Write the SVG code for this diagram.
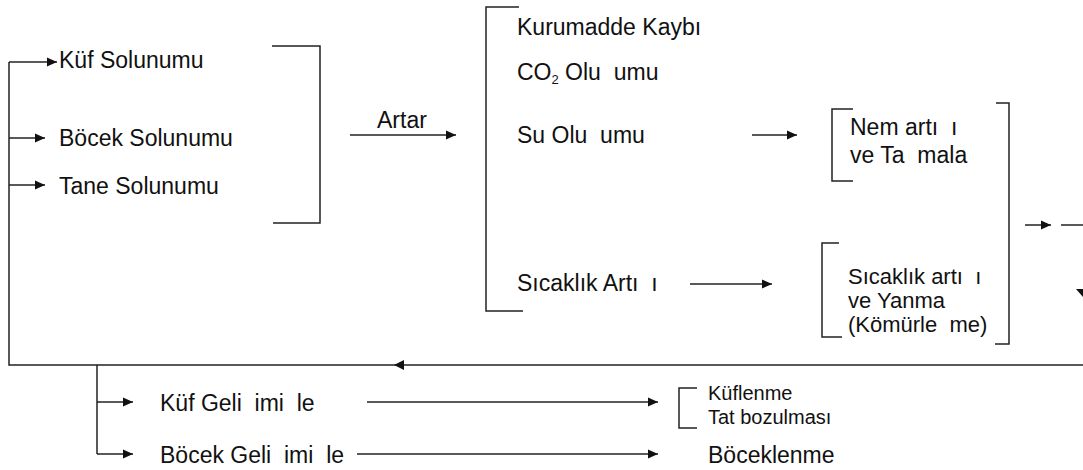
<svg xmlns="http://www.w3.org/2000/svg" width="1083" height="470" viewBox="0 0 1083 470" xml:space="preserve">
<style>
text{font-family:"Liberation Sans",Arial,sans-serif;font-size:23px;fill:#111;white-space:pre}
.sm{font-size:20px}
.md{font-size:22px}
.ln{stroke:#222;stroke-width:1.5;fill:none}
.ar{stroke:#222;stroke-width:1.5;fill:none;marker-end:url(#ah)}
</style>
<defs>
<marker id="ah" viewBox="0 0 10 10" refX="10" refY="5" markerWidth="10" markerHeight="10" markerUnits="userSpaceOnUse" orient="auto">
<path d="M0,0.5 L10,5 L0,9.5 Z" fill="#111"/>
</marker>
</defs>
<rect width="1083" height="470" fill="#fff"/>
<g id="connectors">
<path class="ln" d="M9,62 V365 H1083"/>
<path class="ar" d="M9,62 H57"/>
<path class="ar" d="M9,138 H45"/>
<path class="ar" d="M9,185 H45"/>
<path class="ln" d="M272,46 H320 V223 H273"/>
<path class="ar" d="M350,135 H456"/>
<path class="ln" d="M519,7 H486 V311 H523"/>
<path class="ar" d="M752,135 H797"/>
<path class="ar" d="M690,284 H772"/>
<path class="ln" d="M853,109 H832 V181 H853"/>
<path class="ln" d="M839,243 H822 V337 H842"/>
<path class="ln" d="M996,103 H1009 V344 H995"/>
<path class="ar" d="M1025,225 H1051"/>
<path class="ln" d="M1061,225 H1083"/>
<path d="M1076,289 L1090,289 L1083,297 Z" fill="#111"/>
<path d="M404,360 L394,365 L404,370 Z" fill="#111"/>
<path class="ln" d="M97,365 V454"/>
<path class="ar" d="M97,402 H133"/>
<path class="ar" d="M97,454 H133"/>
<path class="ar" d="M367,402 H658"/>
<path class="ar" d="M357,454 H658"/>
<path class="ln" d="M697,388 H679 V428 H697"/>
</g>
<g id="n-kuf-sol"><text x="59" y="68">Küf Solunumu</text></g>
<g id="n-bocek-sol"><text x="59" y="146">Böcek Solunumu</text></g>
<g id="n-tane-sol"><text x="59" y="194">Tane Solunumu</text></g>
<g id="n-artar"><text x="377" y="128">Artar</text></g>
<g id="n-kurumadde"><text x="517" y="35">Kurumadde Kaybı</text></g>
<g id="n-co2"><text x="517" y="80">CO<tspan font-size="13" dy="4">2</tspan><tspan dy="-4"> Olu  umu</tspan></text></g>
<g id="n-su"><text x="517" y="143">Su Olu  umu</text></g>
<g id="n-sicaklik"><text x="517" y="291">Sıcaklık Artı  ı</text></g>
<g id="n-nem"><text x="850" y="135">Nem artı  ı</text><text x="850" y="163">ve Ta  mala</text></g>
<g id="n-yanma"><text class="md" x="848" y="284">Sıcaklık artı  ı</text><text class="md" x="848" y="308">ve Yanma</text><text class="md" x="848" y="332">(Kömürle  me)</text></g>
<g id="n-kuf-gel"><text x="160" y="411">Küf Geli  imi  le</text></g>
<g id="n-bocek-gel"><text x="160" y="463">Böcek Geli  imi  le</text></g>
<g id="n-kuflenme"><text class="sm" x="708" y="400">Küflenme</text><text class="sm" x="708" y="424">Tat bozulması</text></g>
<g id="n-boceklenme"><text x="708" y="463">Böceklenme</text></g>
</svg>
